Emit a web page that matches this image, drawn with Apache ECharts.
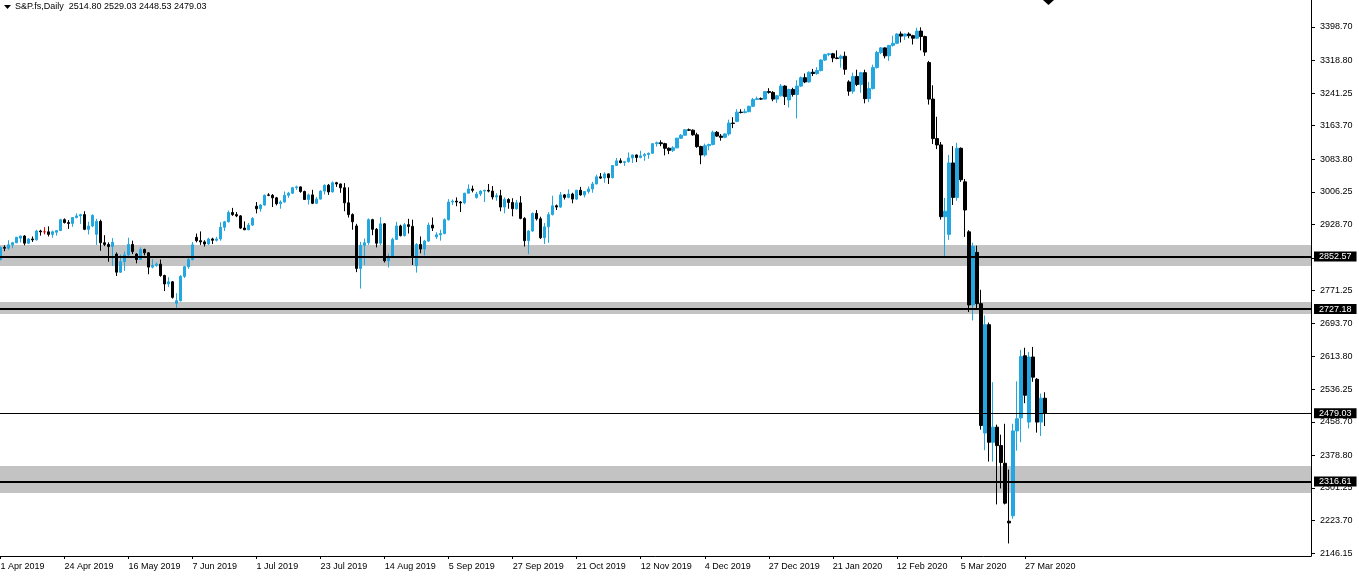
<!DOCTYPE html>
<html><head><meta charset="utf-8">
<script src="https://cdn.jsdelivr.net/npm/echarts@6/dist/echarts.min.js"></script>
<style>html,body{margin:0;padding:0;background:#fff;}#chart{width:1359px;height:578px;}</style>
</head><body><div id="chart"></div>
<script>
// Trading days per month (daily bars)
const tradingDays = [
  ['Apr 2019',[1,2,3,4,5,8,9,10,11,12,15,16,17,18,22,23,24,25,26,29,30]],
  ['May 2019',[1,2,3,6,7,8,9,10,13,14,15,16,17,20,21,22,23,24,27,28,29,30,31]],
  ['Jun 2019',[3,4,5,6,7,10,11,12,13,14,17,18,19,20,21,24,25,26,27,28]],
  ['Jul 2019',[1,2,3,4,5,8,9,10,11,12,15,16,17,18,19,22,23,24,25,26,29,30,31]],
  ['Aug 2019',[1,2,5,6,7,8,9,12,13,14,15,16,19,20,21,22,23,26,27,28,29,30]],
  ['Sep 2019',[2,3,4,5,6,9,10,11,12,13,16,17,18,19,20,23,24,25,26,27,30]],
  ['Oct 2019',[1,2,3,4,7,8,9,10,11,14,15,16,17,18,21,22,23,24,25,28,29,30,31]],
  ['Nov 2019',[1,4,5,6,7,8,11,12,13,14,15,18,19,20,21,22,25,26,27,28,29]],
  ['Dec 2019',[2,3,4,5,6,9,10,11,12,13,16,17,18,19,20,23,24,26,27,30,31]],
  ['Jan 2020',[2,3,6,7,8,9,10,13,14,15,16,17,20,21,22,23,24,27,28,29,30,31]],
  ['Feb 2020',[3,4,5,6,7,10,11,12,13,14,17,18,19,20,21,24,25,26,27,28]],
  ['Mar 2020',[2,3,4,5,6,9,10,11,12,13,16,17,18,19,20,23,24,25,26,27,30,31]],
  ['Apr 2020',[1,2,3]]
];

// Daily bars: [open, high, low, close]
const ohlc = [
  // Apr 2019
  [2845,2876,2843,2874],[2874,2879,2865,2872],[2872,2891,2868,2880],[2880,2887,2872,2885],[2885,2899,2884,2898],
  [2896,2902,2886,2901],[2901,2903,2879,2884],[2884,2896,2882,2894],[2894,2900,2887,2892],[2892,2916,2890,2913],
  [2913,2916,2902,2911],[2911,2922,2905,2911],[2911,2924,2900,2905],[2905,2914,2897,2911],
  [2910,2915,2902,2914],[2914,2942,2913,2940],[2940,2943,2931,2933],[2933,2939,2918,2931],[2931,2946,2923,2945],
  [2945,2955,2943,2949],[2949,2954,2930,2952],
  // May 2019
  [2952,2960,2915,2917],[2917,2935,2905,2925],[2925,2953,2922,2950],
  [2905,2942,2880,2936],[2936,2940,2866,2885],[2885,2903,2877,2881],[2881,2886,2840,2876],[2876,2896,2830,2886],
  [2858,2862,2806,2815],[2815,2857,2813,2840],[2840,2864,2818,2856],[2856,2897,2854,2881],[2881,2890,2858,2864],
  [2858,2860,2836,2845],[2845,2874,2844,2869],[2869,2871,2855,2861],[2861,2863,2810,2827],[2827,2846,2824,2831],
  [2831,2838,2828,2834],[2834,2845,2804,2807],[2807,2809,2770,2787],[2787,2803,2780,2792],[2792,2794,2752,2755],
  // Jun 2019
  [2741,2765,2729,2747],[2747,2808,2745,2805],[2805,2830,2801,2828],[2828,2854,2823,2845],[2845,2887,2843,2880],
  [2898,2907,2886,2890],[2890,2912,2880,2887],[2887,2891,2876,2882],[2882,2897,2880,2894],[2894,2897,2882,2891],
  [2891,2899,2888,2894],[2894,2934,2890,2922],[2922,2937,2913,2935],[2935,2962,2933,2957],[2957,2968,2949,2952],
  [2952,2958,2946,2949],[2949,2951,2918,2920],[2920,2936,2915,2916],[2916,2932,2915,2927],[2927,2946,2925,2943],
  // Jul 2019
  [2972,2982,2955,2966],[2966,2977,2959,2975],[2975,3000,2973,2998],[2999,3003,2996,2998],[2998,3001,2970,2992],
  [2992,2994,2974,2978],[2978,2986,2966,2982],[2982,3007,2981,2998],[2998,3006,2992,3003],[3003,3018,3001,3016],
  [3016,3021,3011,3018],[3018,3019,3004,3007],[3007,3009,2987,2988],[2988,3002,2976,2999],[2999,3011,2977,2979],
  [2979,2994,2977,2989],[2989,3010,2988,3008],[3008,3024,3000,3022],[3022,3025,2999,3006],[3006,3031,3005,3028],
  [3028,3030,3018,3025],[3025,3026,3004,3016],[3016,3027,2960,2980],
  // Aug 2019
  [2980,3017,2945,2952],[2952,2955,2916,2935],
  [2925,2930,2815,2824],[2824,2887,2776,2879],[2879,2895,2832,2885],[2885,2943,2880,2940],[2940,2942,2903,2917],
  [2917,2920,2874,2884],[2884,2946,2879,2930],[2930,2932,2838,2842],[2842,2859,2826,2851],[2851,2897,2850,2893],
  [2893,2935,2892,2925],[2925,2928,2900,2902],[2902,2932,2900,2928],[2928,2942,2907,2924],[2924,2940,2832,2851],
  [2830,2884,2814,2881],[2881,2900,2860,2870],[2870,2892,2855,2889],[2889,2933,2887,2927],[2927,2945,2913,2920],
  // Sep 2019
  [2899,2910,2894,2904],[2904,2916,2890,2907],[2907,2943,2905,2940],[2940,2989,2938,2982],[2982,2988,2975,2984],
  [2984,2993,2972,2982],[2982,2984,2958,2980],[2980,3004,2977,3003],[3003,3024,3002,3013],[3013,3021,3005,3010],
  [2993,3006,2990,3001],[3001,3010,2996,3008],[3008,3011,2982,3010],[3010,3025,3005,3008],[3008,3020,2988,2994],
  [2994,3003,2985,2997],[2997,3011,2960,2970],[2970,2993,2955,2988],[2988,2991,2966,2981],[2981,2991,2948,2966],
  [2966,2987,2964,2980],
  // Oct 2019
  [2980,2996,2941,2943],[2943,2946,2876,2890],[2890,2915,2858,2913],[2913,2957,2911,2955],
  [2955,2963,2938,2942],[2942,2947,2894,2897],[2897,2932,2882,2923],[2923,2958,2885,2952],[2952,2997,2950,2973],
  [2973,2976,2963,2970],[2970,3006,2968,2999],[2999,3001,2988,2993],[2993,3012,2991,3001],[3001,3004,2979,2989],
  [2989,3011,2987,3010],[3010,3018,2997,2999],[2999,3008,2993,3007],[3007,3019,3002,3013],[3013,3030,3004,3025],
  [3025,3047,3024,3042],[3042,3051,3037,3039],[3039,3053,3028,3049],[3049,3050,3025,3040],
  // Nov 2019
  [3040,3070,3038,3069],
  [3069,3087,3068,3080],[3080,3086,3074,3076],[3076,3080,3068,3078],[3078,3100,3076,3087],[3087,3095,3075,3094],
  [3094,3095,3077,3088],[3088,3104,3086,3092],[3092,3099,3080,3095],[3095,3100,3085,3098],[3098,3122,3097,3121],
  [3121,3126,3114,3123],[3123,3129,3115,3121],[3121,3123,3093,3110],[3110,3112,3096,3105],[3105,3115,3101,3111],
  [3111,3135,3110,3134],[3134,3144,3132,3141],[3141,3155,3140,3154],[3154,3157,3151,3153],[3153,3155,3140,3142],
  // Dec 2019
  [3142,3147,3111,3114],[3114,3116,3072,3094],[3094,3121,3090,3116],[3116,3121,3105,3119],[3119,3152,3117,3148],
  [3148,3151,3137,3139],[3139,3144,3128,3136],[3136,3146,3134,3144],[3144,3178,3140,3170],[3170,3184,3158,3169],
  [3174,3203,3172,3196],[3196,3203,3193,3195],[3195,3204,3193,3197],[3197,3211,3196,3210],[3210,3230,3208,3226],
  [3226,3233,3225,3228],[3228,3231,3225,3227],[3227,3245,3226,3245],[3245,3253,3240,3243],
  [3243,3246,3222,3227],[3227,3237,3218,3235],
  // Jan 2020
  [3235,3263,3233,3258],[3258,3260,3213,3233],
  [3225,3252,3207,3250],[3250,3254,3233,3238],[3238,3272,3181,3258],[3258,3281,3256,3278],[3278,3288,3265,3268],
  [3268,3293,3266,3291],[3291,3299,3282,3288],[3288,3303,3285,3295],[3295,3322,3293,3320],[3320,3335,3318,3333],
  [3333,3337,3329,3335],[3335,3337,3315,3325],[3325,3343,3322,3324],[3324,3333,3302,3329],[3329,3340,3285,3298],
  [3268,3272,3235,3246],[3246,3290,3240,3281],[3281,3297,3258,3262],[3262,3292,3242,3290],[3290,3297,3217,3228],
  // Feb 2020
  [3228,3268,3220,3252],[3252,3309,3250,3302],[3302,3342,3300,3338],[3338,3351,3334,3349],[3349,3350,3324,3330],
  [3330,3355,3318,3355],[3355,3378,3352,3360],[3360,3384,3358,3382],[3382,3388,3362,3377],[3377,3383,3368,3382],
  [3382,3386,3372,3378],[3378,3380,3357,3372],[3372,3397,3370,3389],[3389,3398,3343,3376],[3376,3378,3330,3339],
  [3314,3318,3214,3227],[3227,3260,3120,3133],[3133,3185,3108,3118],[3118,3125,2940,2947],[2947,2992,2852,2960],
  // Mar 2020
  [2905,3094,2892,3075],[3075,3115,2975,2993],[2993,3123,2985,3110],[3110,3112,3030,3035],[3030,3037,2899,2963],
  [2911,2915,2720,2737],[2737,2885,2700,2876],[2862,2878,2725,2740],[2740,2773,2440,2450],[2432,2712,2391,2690],
  [2690,2695,2364,2410],[2410,2553,2364,2446],[2446,2452,2262,2402],[2402,2428,2300,2362],[2360,2454,2262,2265],
  [2222,2345,2169,2218],[2235,2454,2228,2437],[2437,2555,2390,2466],[2468,2630,2410,2614],[2616,2635,2503,2522],
  [2458,2625,2443,2613],[2613,2637,2554,2565],
  // Apr 2020
  [2560,2563,2433,2458],[2458,2526,2425,2515],[2514.80,2529.03,2448.53,2479.03]
];

const zones = [[2829.6, 2879.6], [2715.4, 2744.0], [2289.0, 2353.5]];
const levels = [2852.57, 2727.18, 2316.61];
const lastPrice = 2479.03;
const priceTicks = [3398.70,3318.80,3241.25,3163.70,3083.80,3006.25,2928.70,2848.80,2771.25,2693.70,2613.80,2536.25,2458.70,2378.80,2301.25,2223.70,2146.15];
const headerText = 'S&P.fs,Daily  2514.80 2529.03 2448.53 2479.03';
const dojiDates = ['16 Apr 2019'];
const emptySlots = 66;

const dates = [];
tradingDays.forEach(([m, days]) => days.forEach(d => dates.push(d + ' ' + m)));
const categories = dates.slice();
for (let k = 0; k < emptySlots; k++) categories.push('_pad' + k);

const BLUE = '#22a7e0';
const candleData = ohlc.map((r, i) => {
  const item = { value: [r[0], r[3], r[2], r[1]] };
  if (dojiDates.includes(dates[i])) {
    item.itemStyle = { color: '#e00000', borderColor: '#e00000', color0: '#e00000', borderColor0: '#e00000', borderColorDoji: '#e00000' };
  }
  return item;
});

const FONT = 'Liberation Sans';
const n = dates.length;
const chart = echarts.init(document.getElementById('chart'), null, { renderer: 'canvas' });
chart.setOption({
  animation: false,
  backgroundColor: '#ffffff',
  grid: { left: -1.5, right: 48, top: 0, bottom: 22, containLabel: false, outerBoundsMode: 'none' },
  xAxis: {
    type: 'category',
    data: categories,
    boundaryGap: true,
    axisLine: { show: true, lineStyle: { color: '#000', width: 1 } },
    axisTick: { show: true, alignWithLabel: true, length: 3, interval: (i) => i % 16 === 0 && i < n, lineStyle: { color: '#000' } },
    axisLabel: {
      show: true, interval: (i) => i % 16 === 0 && i < n,
      formatter: (v, i) => (i < n ? v : ''),
      color: '#000', fontFamily: FONT, fontSize: 9, align: 'left', margin: 6
    },
    splitLine: { show: false }
  },
  yAxis: {
    type: 'value',
    position: 'right',
    min: 2139.2, max: 3463.0,
    axisLine: { show: true, onZero: false, lineStyle: { color: '#000', width: 1 } },
    axisTick: { show: true, length: 4, customValues: priceTicks, lineStyle: { color: '#000' } },
    axisLabel: { show: true, customValues: priceTicks, formatter: v => Number(v).toFixed(2), color: '#000', fontFamily: FONT, fontSize: 9, margin: 9 },
    splitLine: { show: false }
  },
  series: [
    {
      type: 'line', data: [], z: 1, silent: true,
      markArea: {
        silent: true,
        itemStyle: { color: '#c3c3c3', opacity: 1 },
        data: zones.map(z => [{ yAxis: z[0] }, { yAxis: z[1] }])
      }
    },
    {
      type: 'candlestick', z: 3, barWidth: 3,
      data: candleData,
      itemStyle: { color: BLUE, color0: '#000', borderColor: BLUE, borderColor0: '#000', borderWidth: 1 }
    },
    {
      type: 'line', data: [], z: 5, silent: true,
      markLine: {
        silent: true, symbol: 'none', animation: false,
        label: {
          show: true, position: 'end', distance: 3,
          formatter: p => Number(p.value).toFixed(2),
          backgroundColor: '#000', color: '#fff', fontFamily: FONT, fontSize: 9, padding: [1, 5, 0, 5]
        },
        data: levels.map(v => ({ yAxis: v, lineStyle: { color: '#000', width: 2, type: 'solid' } }))
          .concat([{ yAxis: lastPrice, lineStyle: { color: '#000', width: 1, type: 'solid' } }])
      }
    }
  ],
  graphic: [
    { type: 'polygon', shape: { points: [[4, 5], [11, 5], [7.5, 9]] }, style: { fill: '#000' } },
    { type: 'text', left: 15, top: 2, style: { text: headerText, font: '9px "Liberation Sans"', fill: '#000' } },
    { type: 'polygon', shape: { points: [[1043, 0], [1054, 0], [1048.5, 5]] }, style: { fill: '#000' } }
  ]
});
</script>
</body></html>
